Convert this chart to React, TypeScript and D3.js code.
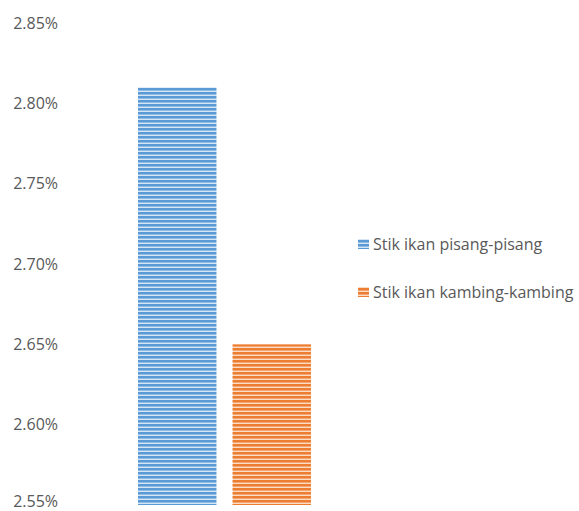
import React from "react";
import * as d3 from "d3";

const series = ["Stik ikan pisang-pisang", "Stik ikan kambing-kambing"];
const values = [2.81, 2.65];
const colors = ["#5b9bd5", "#ed7d31"];
const midColors = ["#8fbbe4", "#f3a672"];
const lightColors = ["#d6e6f5", "#fbdcc7"];
const ticks = [2.55, 2.6, 2.65, 2.7, 2.75, 2.8, 2.85];

const W = 579;
const H = 511;

export default function App() {
  const y = d3.scaleLinear().domain([2.55, 2.85]).range([505, 23]);
  const x = d3.scaleBand<string>().domain(series).range([138, 311]).paddingInner(0.17);
  const font = "'Open Sans', 'Noto Sans', sans-serif";
  return (
    <svg width={W} height={H} style={{ position: "absolute", left: 0, top: 0 }}>
      <defs>
        {colors.map((c, i) => (
          <pattern key={i} id={`stripe${i}`} width={8} height={4} patternUnits="userSpaceOnUse">
            <rect x={0} y={0} width={8} height={4} fill={lightColors[i]} />
            <rect x={0} y={0} width={8} height={2} fill={c} />
            <rect x={0} y={2} width={8} height={1} fill={midColors[i]} />
          </pattern>
        ))}
      </defs>
      {ticks.map((t) => (
        <text
          key={t}
          x={58}
          y={Math.min(y(t), 501)}
          dy="0.35em"
          textAnchor="end"
          fontFamily={font}
          fontSize={16}
          fill="#595959"
        >
          {d3.format(".2%")(t / 100)}
        </text>
      ))}
      {series.map((s, i) => (
        <rect
          key={s}
          x={x(s)}
          y={y(values[i])}
          width={x.bandwidth()}
          height={y(2.55) - y(values[i])}
          fill={`url(#stripe${i})`}
        />
      ))}
      {series.map((s, i) => (
        <g key={s} transform={`translate(358, ${244 + i * 48})`}>
          <rect x={0} y={-5} width={11} height={10} fill={`url(#stripe${i})`} />
          <text x={15} y={0} dy="0.35em" fontFamily={font} fontSize={16} fill="#595959">
            {s}
          </text>
        </g>
      ))}
    </svg>
  );
}
